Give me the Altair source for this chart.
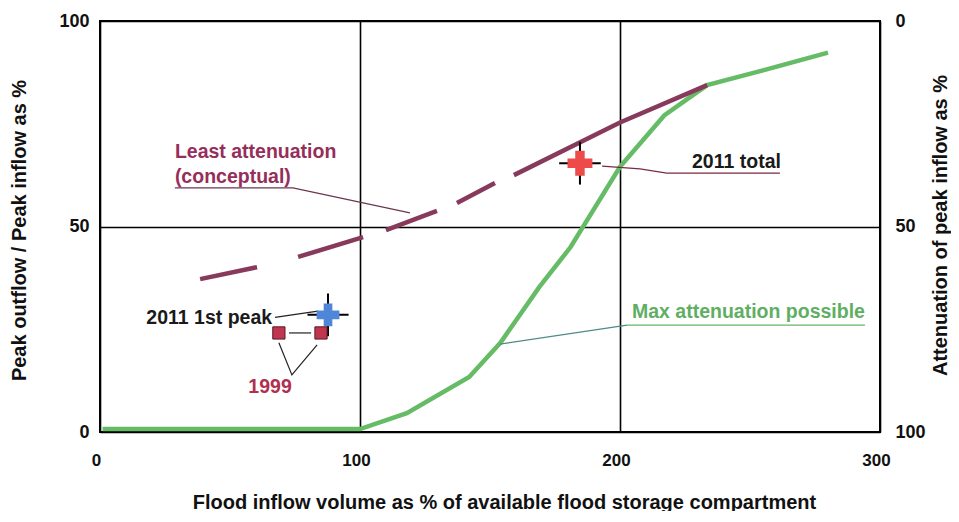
import altair as alt
import pandas as pd

# ---------------- data ----------------
# Max attenuation possible (green curve)
green_x = [1, 100, 118, 142, 154, 169, 181, 200, 217, 233.5, 255, 280]
green_y = [0.7, 0.7, 4.6, 13.4, 21.7, 35.3, 45, 64.5, 77, 84.4, 88, 92.3]

# Least attenuation (conceptual) - drawn as separate dashes
least_x = [38.5, 60.4, 76.2, 101.2, 110, 129.6, 137.3, 151.9, 159.2, 200, 233.5]
least_y = [37.2, 40.1, 42.6, 47.4, 49.1, 53.8, 55.7, 60.6, 62.5, 75.3, 84.4]
least_seg = [1, 1, 2, 2, 3, 3, 4, 4, 5, 5, 5]

# Observed events with error bars
event_names = ["2011 total", "2011 1st peak"]
event_x = [184.6, 87.7]
event_y = [65.4, 28.5]
event_dx = [8.0, 7.9]
event_dy = [5.2, 5.2]
event_colors = ["#ee4a4a", "#4f86d8"]
event_sizes = [620, 520]

# 1999 squares
sq_x = [68.8, 85.0]
sq_y = [24.1, 24.1]

# Annotation leader lines (group, x, y, colour)
lead_group = [1, 1, 1, 2, 2, 2, 2, 3, 3, 4, 4, 4, 5, 5, 6, 6, 7, 7]
lead_x = [28.8, 74.2, 119.2, 193.1, 207.7, 218.0, 261.5, 67.3, 83.8, 68.8, 73.8, 83.5, 72.7, 81.2, 202.7, 294.2, 153.8, 202.7]
lead_y = [59.4, 59.4, 53.3, 64.7, 64.0, 63.0, 63.0, 27.9, 29.4, 21.7, 13.9, 21.2, 24.1, 24.1, 26.0, 26.0, 21.4, 26.0]
lead_color = ["#6b3550"] * 3 + ["#7a2a40"] * 4 + ["#222222"] * 2 + ["#222222"] * 3 + ["#222222"] * 2 + ["#66b466"] * 2 + ["#4d8a8a"] * 2

# Annotation texts
ltext = ["Least attenuation", "(conceptual)", "2011 total", "Max attenuation possible"]
ltext_x = [28.8, 28.8, 227.7, 204.6]
ltext_y = [68.1, 62.0, 65.7, 29.2]
ltext_color = ["#962e5a", "#962e5a", "#1a1a1a", "#5fae63"]

rtext = ["2011 1st peak"]
rtext_x = [66.2]
rtext_y = [27.7]

ctext = ["1999"]
ctext_x = [65.4]
ctext_y = [10.9]

x_ticks = [0, 100, 200, 300]
y_ticks = [0, 50, 100]
att_ticks = [0, 50, 100]

FONT = "Liberation Sans"
ANN = 19.5
TIT = 20

# ---------------- frames ----------------
green_df = pd.DataFrame({"x": green_x, "y": green_y})
least_df = pd.DataFrame({"x": least_x, "y": least_y, "seg": least_seg})
ev_df = pd.DataFrame({"name": event_names, "x": event_x, "y": event_y,
                      "dx": event_dx, "dy": event_dy, "c": event_colors, "s": event_sizes})
sq_df = pd.DataFrame({"x": sq_x, "y": sq_y})
lead_df = pd.DataFrame({"g": lead_group, "x": lead_x, "y": lead_y, "c": lead_color})
ltext_df = pd.DataFrame({"t": ltext, "x": ltext_x, "y": ltext_y, "c": ltext_color})
rtext_df = pd.DataFrame({"t": rtext, "x": rtext_x, "y": rtext_y})
ctext_df = pd.DataFrame({"t": ctext, "x": ctext_x, "y": ctext_y})
att_df = pd.DataFrame({"att": att_ticks})

xs = alt.Scale(domain=[0, 300], nice=False, zero=False)
ys = alt.Scale(domain=[0, 100], nice=False, zero=False)

x_axis = alt.Axis(values=x_ticks, grid=True, gridColor="black", gridWidth=1.6,
                  ticks=False, domain=False, labelPadding=20, labelOffset=-4,
                  labelFlush=False, labelFontSize=17, labelFontWeight="bold",
                  labelColor="#111", labelFont=FONT,
                  title="Flood inflow volume as % of available flood storage compartment",
                  titleFont=FONT, titleFontSize=TIT, titleFontWeight="bold", titleColor="#111",
                  titleX=404, titleY=76, titleAlign="center", titleBaseline="alphabetic")
y_axis = alt.Axis(values=y_ticks, grid=True, gridColor="black", gridWidth=1.6,
                  ticks=False, domain=False, labelPadding=11, labelFontSize=18,
                  labelFontWeight="bold", labelColor="#111", labelFont=FONT,
                  title="Peak outflow / Peak inflow as %", titleFont=FONT, titleFontSize=TIT,
                  titleFontWeight="bold", titleColor="#111", titleAngle=270,
                  titleX=-81, titleY=209, titleAlign="center", titleBaseline="middle")

green = alt.Chart(green_df).mark_line(color="#66bb66", strokeWidth=4.5).encode(
    x=alt.X("x:Q", scale=xs, axis=x_axis),
    y=alt.Y("y:Q", scale=ys, axis=y_axis),
)

least = alt.Chart(least_df).mark_line(color="#873a5c", strokeWidth=4.5).encode(
    x=alt.X("x:Q", scale=xs), y=alt.Y("y:Q", scale=ys), detail="seg:N",
)

leaders = alt.Chart(lead_df).mark_line(strokeWidth=1.2).encode(
    x=alt.X("x:Q", scale=xs), y=alt.Y("y:Q", scale=ys), detail="g:N",
    color=alt.Color("c:N", scale=None),
)

hbars = alt.Chart(ev_df).transform_calculate(
    x1="datum.x - datum.dx", x2="datum.x + datum.dx"
).mark_rule(color="black", strokeWidth=2).encode(
    x=alt.X("x1:Q", scale=xs), x2="x2:Q", y=alt.Y("y:Q", scale=ys),
)
vbars = alt.Chart(ev_df).transform_calculate(
    y1="datum.y - datum.dy", y2="datum.y + datum.dy"
).mark_rule(color="black", strokeWidth=2).encode(
    x=alt.X("x:Q", scale=xs), y=alt.Y("y1:Q", scale=ys), y2="y2:Q",
)

crosses = alt.Chart(ev_df).mark_point(
    shape="M-1,-0.38H-0.38V-1H0.38V-0.38H1V0.38H0.38V1H-0.38V0.38H-1Z",
    filled=True, opacity=1,
).encode(
    x=alt.X("x:Q", scale=xs), y=alt.Y("y:Q", scale=ys),
    color=alt.Color("c:N", scale=None), size=alt.Size("s:Q", scale=None),
)

squares = alt.Chart(sq_df).mark_square(
    size=150, color="#c0354f", stroke="#5a1a25", strokeWidth=1, opacity=1
).encode(x=alt.X("x:Q", scale=xs), y=alt.Y("y:Q", scale=ys))

ltexts = alt.Chart(ltext_df).mark_text(
    align="left", baseline="middle", font=FONT, fontSize=ANN, fontWeight="bold"
).encode(x=alt.X("x:Q", scale=xs), y=alt.Y("y:Q", scale=ys), text="t:N",
         color=alt.Color("c:N", scale=None))

rtexts = alt.Chart(rtext_df).mark_text(
    align="right", baseline="middle", font=FONT, fontSize=ANN, fontWeight="bold", color="#1a1a1a"
).encode(x=alt.X("x:Q", scale=xs), y=alt.Y("y:Q", scale=ys), text="t:N")

ctexts = alt.Chart(ctext_df).mark_text(
    align="center", baseline="middle", font=FONT, fontSize=ANN, fontWeight="bold", color="#b03050"
).encode(x=alt.X("x:Q", scale=xs), y=alt.Y("y:Q", scale=ys), text="t:N")

main = alt.layer(green, least, leaders, hbars, vbars, crosses, squares, ltexts, rtexts, ctexts)

right_axis = alt.Chart(att_df).mark_point(opacity=0).encode(
    y=alt.Y("att:Q", scale=alt.Scale(domain=[0, 100], reverse=True, nice=False),
            axis=alt.Axis(orient="right", values=att_ticks, grid=False, ticks=False,
                          domain=False, labelPadding=15, labelFontSize=18,
                          labelFontWeight="bold", labelColor="#111", labelFont=FONT,
                          title="Attenuation of peak inflow as %", titleFont=FONT,
                          titleFontSize=TIT, titleFontWeight="bold", titleColor="#111",
                          titleAngle=270, titleX=60, titleY=204, titleAlign="center",
                          titleBaseline="middle")),
)

chart = alt.layer(main, right_axis).resolve_scale(y="independent").properties(
    width=780, height=411,
    padding={"left": 92, "top": 13, "right": 71, "bottom": 79},
    autosize=alt.AutoSizeParams(type="none"),
    background="white",
).configure_view(stroke="black", strokeWidth=2)

chart.save("out.html", embed_options={"renderer": "svg", "actions": False})
